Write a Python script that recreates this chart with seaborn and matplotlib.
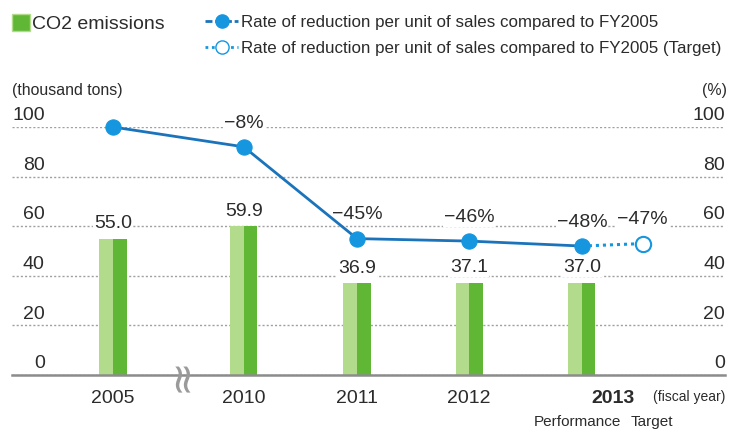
import numpy as np
import pandas as pd
import matplotlib
matplotlib.use("Agg")
import matplotlib.pyplot as plt
import matplotlib.transforms as mtransforms
from matplotlib.lines import Line2D
from matplotlib.patches import Patch
import seaborn as sns

# data
years = ["2005", "2010", "2011", "2012", "2013"]
co2 = [55.0, 59.9, 36.9, 37.1, 37.0]
rate = [100, 92, 55, 54, 52]
rate_labels = ["", "−8%", "−45%", "−46%", "−48%"]
target_rate = 53
target_label = "−47%"

# layout (x positions on the axis, with a gap for the break after 2005)
x_pos = [0, 1.16, 2.165, 3.16, 4.16]
x_target = 4.7

sns.set_theme(style="white")
plt.rcParams["font.family"] = ["Liberation Sans", "DejaVu Sans"]

TXT = "#2b2b2b"
LIGHT_GREEN = "#b3db8c"
DARK_GREEN = "#5fb735"
BLUE_LINE = "#1b74bb"
BLUE_DOT = "#1596df"

fig = plt.figure(figsize=(7.29, 4.33), dpi=100)
ax = fig.add_axes([12 / 729, 58 / 433, 713 / 729, 248 / 433])

# two-tone bars
half = 0.12
ax.bar(np.array(x_pos) - half / 2, co2, width=half, color=LIGHT_GREEN, linewidth=0)
ax.bar(np.array(x_pos) + half / 2, co2, width=half, color=DARK_GREEN, linewidth=0)

for x, v in zip(x_pos, co2):
    ax.annotate(f"{v:.1f}", xy=(x, v), xytext=(0, 5), textcoords="offset points",
                ha="center", va="bottom", fontsize=14, color=TXT,
                bbox=dict(boxstyle="square,pad=0.05", fc="white", ec="none"))

# rate line
df = pd.DataFrame({"x": x_pos, "rate": rate})
sns.lineplot(data=df, x="x", y="rate", ax=ax, color=BLUE_LINE, lw=2.0,
             marker="o", markersize=11, markerfacecolor=BLUE_DOT,
             markeredgecolor=BLUE_DOT, clip_on=False, zorder=5)
df_t = pd.DataFrame({"x": [x_pos[-1], x_target], "rate": [rate[-1], target_rate]})
sns.lineplot(data=df_t, x="x", y="rate", ax=ax, color=BLUE_DOT, lw=2.2,
             linestyle=(0, (1, 1.3)), clip_on=False, zorder=4)
ax.plot([x_target], [target_rate], marker="o", markersize=11, markerfacecolor="white",
        markeredgecolor=BLUE_DOT, markeredgewidth=1.5, clip_on=False, zorder=6)

for x, v, lab in zip(x_pos, rate, rate_labels):
    if lab:
        ax.annotate(lab, xy=(x, v), xytext=(0, 11), textcoords="offset points",
                    ha="center", va="bottom", fontsize=14, color=TXT,
                    bbox=dict(boxstyle="square,pad=0.05", fc="white", ec="none"))
ax.annotate(target_label, xy=(x_target, target_rate), xytext=(0, 11),
            textcoords="offset points", ha="center", va="bottom", fontsize=14,
            color=TXT, bbox=dict(boxstyle="square,pad=0.05", fc="white", ec="none"))

# axes styling
ax.set_xlim(-0.896, 5.43)
ax.set_ylim(0, 100)
ax.set_yticks(range(0, 101, 20))
ax.set_yticklabels([])
ax.tick_params(axis="y", length=0)
ax.yaxis.grid(True, color="#a0a0a0", linestyle=(0, (1.5, 1.5)), lw=1)
ax.set_axisbelow(True)
for s in ["top", "left", "right"]:
    ax.spines[s].set_visible(False)
ax.spines["bottom"].set_color("#8c8c8c")
ax.spines["bottom"].set_linewidth(1.8)
ax.spines["bottom"].set_zorder(1)
ax.set_xlabel("")
ax.set_ylabel("")

# tick labels drawn inside the axes, sitting above the grid lines
blend = mtransforms.blended_transform_factory(ax.transAxes, ax.transData)
for v in range(0, 101, 20):
    ax.annotate(str(v), xy=(0.046, v), xycoords=blend, xytext=(0, 2),
                textcoords="offset points", ha="right", va="bottom",
                fontsize=14, color=TXT)
    ax.annotate(str(v), xy=(1.0, v), xycoords=blend, xytext=(0, 2),
                textcoords="offset points", ha="right", va="bottom",
                fontsize=14, color=TXT)

xt = x_pos[:4] + [4.44]
ax.set_xticks(xt)
ax.set_xticklabels(years, fontsize=14, color=TXT)
ax.get_xticklabels()[-1].set_fontweight("bold")
ax.tick_params(axis="x", length=0, pad=11)

# axis break mark
ax.text(0.6, 0, "≈", rotation=90, fontsize=30, color="#9a9a9a",
        family="DejaVu Sans", ha="center", va="center", clip_on=False)

ax.annotate("(fiscal year)", xy=(1.0, 0), xycoords=blend, xytext=(0, -16),
            textcoords="offset points", ha="right", va="center",
            fontsize=10, color=TXT)
ax.annotate("Performance", xy=(4.12, 0), xytext=(0, -34), textcoords="offset points",
            ha="center", va="center", fontsize=11, color=TXT)
ax.annotate("Target", xy=(4.78, 0), xytext=(0, -34), textcoords="offset points",
            ha="center", va="center", fontsize=11, color=TXT)

# units
fig.text(12 / 729, 1 - 90 / 433, "(thousand tons)", ha="left", va="center",
         fontsize=11.4, color=TXT)
fig.text(727 / 729, 1 - 90 / 433, "(%)", ha="right", va="center",
         fontsize=11.4, color=TXT)

# legends
leg1 = fig.legend(handles=[Patch(facecolor=DARK_GREEN, edgecolor=LIGHT_GREEN)],
                  labels=["CO2 emissions"], loc="upper left",
                  bbox_to_anchor=(12 / 729, 1 - 14 / 433), frameon=False,
                  borderpad=0, borderaxespad=0, handlelength=0.93, handleheight=0.93,
                  handletextpad=0.1, prop={"size": 14})
for t in leg1.get_texts():
    t.set_color(TXT)
h_line = Line2D([], [], color=BLUE_LINE, lw=2, linestyle=(0, (2.5, 1)), marker="o",
                markersize=9.5, markerfacecolor=BLUE_DOT, markeredgecolor=BLUE_DOT)
h_tgt = Line2D([], [], color=BLUE_DOT, lw=2, linestyle=(0, (1, 1.3)), marker="o",
               markersize=9.5, markerfacecolor="white", markeredgecolor=BLUE_DOT)
leg2 = fig.legend(handles=[h_line, h_tgt],
                  labels=["Rate of reduction per unit of sales compared to FY2005",
                          "Rate of reduction per unit of sales compared to FY2005 (Target)"],
                  loc="upper left", bbox_to_anchor=(205 / 729, 1 - 15 / 433),
                  frameon=False, borderpad=0, borderaxespad=0, handlelength=1.95,
                  handletextpad=0.2, labelspacing=0.62, prop={"size": 12.2})
for t in leg2.get_texts():
    t.set_color(TXT)

fig.savefig("out.png", dpi=100)
